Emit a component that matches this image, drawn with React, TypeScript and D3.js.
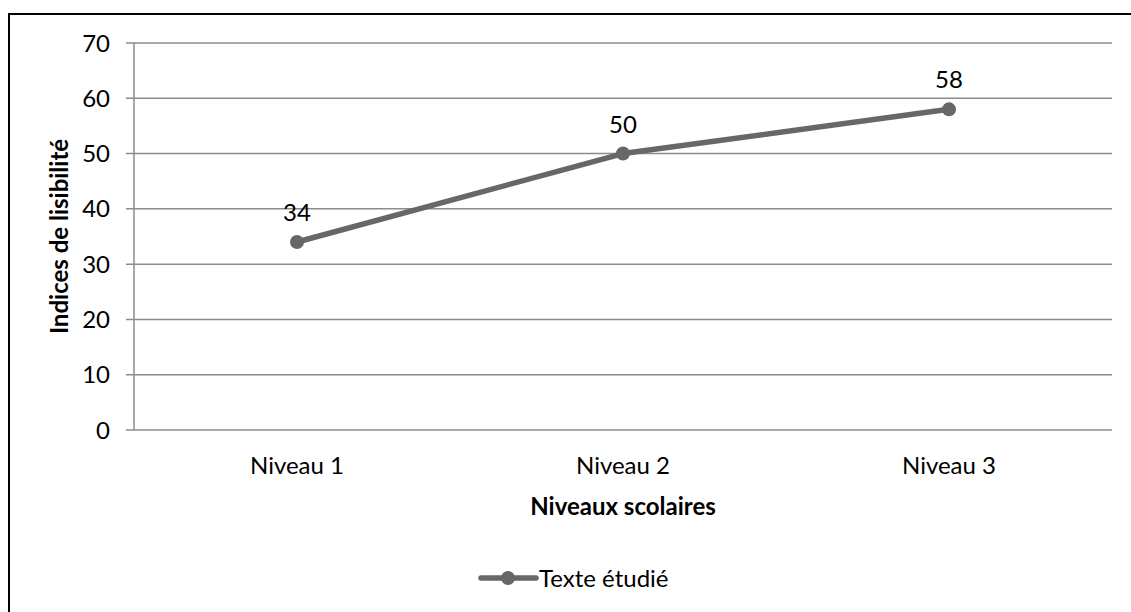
import * as d3 from 'd3'

const categories = ['Niveau 1', 'Niveau 2', 'Niveau 3']
const values = [34, 50, 58]
const yTicks = [0, 10, 20, 30, 40, 50, 60, 70]
const seriesName = 'Texte étudié'

const W = 1131
const H = 612
const font = 'Lato, "Open Sans", sans-serif'
const lineColor = '#676767'
const gridColor = '#8c8c8c'
const fs = 24

export default function App() {
  const margin = { top: 43, right: 19, left: 134, bottom: 182 }
  const x = d3
    .scaleBand()
    .domain(categories)
    .range([margin.left, W - margin.right])
  const y = d3.scaleLinear().domain([0, 70]).range([H - margin.bottom, margin.top])
  const cx = (c: string) => (x(c) ?? 0) + x.bandwidth() / 2

  const line = d3
    .line<number>()
    .x((_, i) => cx(categories[i]))
    .y((d) => y(d))

  const legendX = 508
  const legendY = 578

  return (
    <div style={{ position: 'absolute', left: 0, top: 0 }}>
      <svg width={W} height={H} style={{ display: 'block', background: '#fff' }}>
        <rect x={9} y={14} width={W + 10} height={H + 10} fill="none" stroke="#000" strokeWidth={2} />

        {yTicks.map((t) => (
          <g key={t}>
            <line
              x1={margin.left - 8}
              x2={W - margin.right}
              y1={y(t)}
              y2={y(t)}
              stroke={gridColor}
              strokeWidth={1.5}
            />
            <text
              x={margin.left - 24}
              y={y(t)}
              dy="0.36em"
              textAnchor="end"
              fontFamily={font}
              fontSize={fs}
              fill="#000"
            >
              {t}
            </text>
          </g>
        ))}
        <line
          x1={margin.left}
          x2={margin.left}
          y1={y(70)}
          y2={y(0)}
          stroke={gridColor}
          strokeWidth={1.5}
        />

        {categories.map((c) => (
          <text
            key={c}
            x={cx(c)}
            y={y(0) + 44}
            textAnchor="middle"
            fontFamily={font}
            fontSize={fs}
            fill="#000"
          >
            {c}
          </text>
        ))}

        <text
          x={(margin.left + W - margin.right) / 2}
          y={515}
          textAnchor="middle"
          fontFamily={font}
          fontSize={fs}
          fontWeight="bold"
          fill="#000"
        >
          Niveaux scolaires
        </text>
        <text
          transform={`translate(68,${(y(0) + y(70)) / 2}) rotate(-90)`}
          textAnchor="middle"
          fontFamily={font}
          fontSize={fs}
          fontWeight="bold"
          fill="#000"
        >
          Indices de lisibilité
        </text>

        <path d={line(values) ?? ''} fill="none" stroke={lineColor} strokeWidth={5.5} strokeLinejoin="round" />
        {values.map((v, i) => (
          <g key={i}>
            <circle cx={cx(categories[i])} cy={y(v)} r={7} fill={lineColor} />
            <text
              x={cx(categories[i])}
              y={y(v) - 21}
              textAnchor="middle"
              fontFamily={font}
              fontSize={fs}
              fill="#000"
            >
              {v}
            </text>
          </g>
        ))}

        <line
          x1={legendX - 27}
          x2={legendX + 28}
          y1={legendY}
          y2={legendY}
          stroke={lineColor}
          strokeWidth={5.5}
          strokeLinecap="round"
        />
        <circle cx={legendX} cy={legendY} r={7} fill={lineColor} />
        <text x={legendX + 31} y={legendY} dy="0.36em" fontFamily={font} fontSize={fs} fill="#000">
          {seriesName}
        </text>
      </svg>
    </div>
  )
}
